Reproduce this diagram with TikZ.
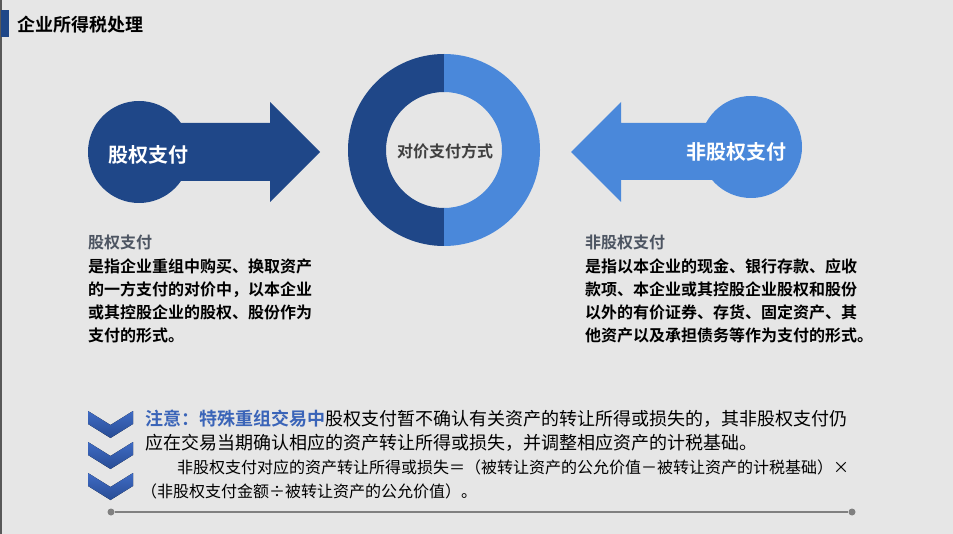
\documentclass[tikz,border=0pt]{standalone}
\usepackage{fontspec}
\setmainfont{Noto Sans CJK SC}[BoldFont={Noto Sans CJK SC Bold}]
\definecolor{bg}{HTML}{E6E6E6}
\definecolor{darkblue}{HTML}{1F4788}
\definecolor{lightblue}{HTML}{4A88DA}
\definecolor{headgray}{HTML}{4D5562}
\definecolor{notecol}{HTML}{3A64B8}
\definecolor{chevtop}{HTML}{3F6BC4}
\definecolor{chevbot}{HTML}{284C94}
\definecolor{linegray}{HTML}{808080}
\begin{document}
\begin{tikzpicture}[x=1pt,y=-1pt,
  txt/.style={anchor=west,inner sep=0pt,outer sep=0pt},
  titletxt/.style={txt,font=\fontsize{18}{18}\selectfont\bfseries,text=black},
  arrowtxt/.style={anchor=center,inner sep=0pt,font=\fontsize{20}{20}\selectfont\bfseries,text=white},
  headtxt/.style={txt,font=\fontsize{16}{16}\selectfont\bfseries,text=headgray},
  bodytxt/.style={txt,font=\fontsize{16}{23}\selectfont\bfseries,text=black,align=left},
  notetxt/.style={txt,font=\fontsize{18}{24}\selectfont,text=black},
  formtxt/.style={txt,font=\fontsize{16}{24}\selectfont,text=black},
  chevron/.style={top color=chevtop,bottom color=chevbot,draw=none},
  dot/.style={circle,fill=linegray,inner sep=0pt,minimum size=7pt}
]
% background
\fill[bg] (0,0) rectangle (953,534);
\useasboundingbox (0,0) rectangle (953,534);
\draw[line width=1.5pt,color=black!65] (0.75,0) -- (0.75,534);
% title
\fill[darkblue] (1,10) rectangle (9,37);
\node[titletxt] (title) at (17,25) {企业所得税处理};

% left arrow
\fill[darkblue] (139,152) circle[radius=51];
\fill[darkblue] (139,123) -- (270,123) -- (270,102) -- (320,152) -- (270,202) -- (270,181) -- (139,181) -- cycle;
\node[arrowtxt] (lefttxt) at (148,155) {股权支付};

% right arrow
\fill[lightblue] (751,147) circle[radius=51];
\fill[lightblue] (751,123) -- (621,123) -- (621,102) -- (571,152) -- (621,202) -- (621,180) -- (751,180) -- cycle;
\node[arrowtxt] (righttxt) at (736,152) {非股权支付};

% ring
\begin{scope}
  \clip (340,40) rectangle (444,260);
  \fill[darkblue,even odd rule] (444,150) circle[radius=96] (444,150) circle[radius=58];
\end{scope}
\begin{scope}
  \clip (444,40) rectangle (550,260);
  \fill[lightblue,even odd rule] (444,150) circle[radius=96] (444,150) circle[radius=58];
\end{scope}
\node[anchor=center,inner sep=0pt,font=\fontsize{16}{16}\selectfont\bfseries,text=black!75] (ringtxt) at (445,151) {对价支付方式};

% left text block
\node[headtxt] (lhead) at (88,242) {股权支付};
\node[bodytxt,anchor=north west] (lbody) at (88,259) {是指企业重组中购买、换取资产\\的一方支付的对价中，以本企业\\或其控股企业的股权、股份作为\\支付的形式。};

% right text block
\node[headtxt] (rhead) at (585,242) {非股权支付};
\node[bodytxt,anchor=north west] (rbody) at (585,259) {是指以本企业的现金、银行存款、应收\\款项、本企业或其控股企业股权和股份\\以外的有价证券、存货、固定资产、其\\他资产以及承担债务等作为支付的形式。};

% chevrons
\foreach \t in {411,442,473}{
  \fill[chevron] (88,\t) -- (110.5,\t+14) -- (133,\t) -- (133,\t+13) -- (110.5,\t+27) -- (88,\t+13) -- cycle;
}

% note text
\node[notetxt] (note1) at (145,419) {{\color{notecol}\bfseries 注意：特殊重组交易中}股权支付暂不确认有关资产的转让所得或损失的，其非股权支付仍};
\node[notetxt] (note2) at (145,443) {应在交易当期确认相应的资产转让所得或损失，并调整相应资产的计税基础。};
\node[formtxt] (form1) at (177,467) {非股权支付对应的资产转让所得或损失＝（被转让资产的公允价值－被转让资产的计税基础）×};
\node[formtxt] (form2) at (141,491) {（非股权支付金额÷被转让资产的公允价值）。};

% bottom line
\node[dot] (dl) at (111,512) {};
\node[dot] (dr) at (852,512) {};
\draw[linegray,line width=1.5pt] (dl) -- (dr);
\end{tikzpicture}
\end{document}
